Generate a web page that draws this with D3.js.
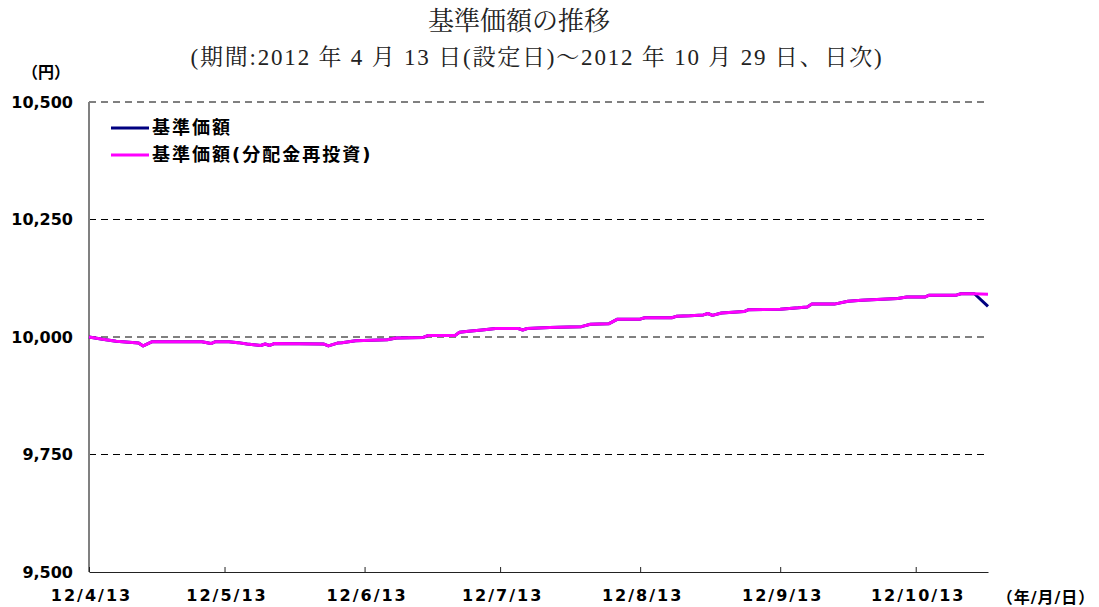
<!DOCTYPE html>
<html>
<head>
<meta charset="utf-8">
<script src="https://cdn.jsdelivr.net/npm/d3@7"></script>
<style>
  body { margin: 0; background: #fff; }
  .title { font-family: "Liberation Serif", "Noto Serif CJK JP", "Noto Sans CJK JP", serif; fill: #222; }
  .lab { font-family: "DejaVu Sans", "Noto Sans CJK JP", sans-serif; font-weight: bold; fill: #000; }
</style>
</head>
<body>
<div id="chart"></div>
<script>
// data
var dates = ['2012-04-13','2012-04-16','2012-04-19','2012-04-24','2012-04-25','2012-04-27',
	'2012-05-08','2012-05-10','2012-05-11','2012-05-14','2012-05-16','2012-05-18','2012-05-21',
	'2012-05-22','2012-05-23','2012-05-24','2012-06-04','2012-06-05','2012-06-07','2012-06-08',
	'2012-06-11','2012-06-18','2012-06-20','2012-06-26','2012-06-27','2012-07-03','2012-07-04',
	'2012-07-06','2012-07-09','2012-07-12','2012-07-17','2012-07-18','2012-07-19','2012-07-24',
	'2012-07-26','2012-07-31','2012-08-02','2012-08-06','2012-08-08','2012-08-13','2012-08-14',
	'2012-08-20','2012-08-21','2012-08-24','2012-08-27','2012-08-28','2012-08-29','2012-08-31',
	'2012-09-05','2012-09-06','2012-09-13','2012-09-17','2012-09-19','2012-09-20','2012-09-25',
	'2012-09-28','2012-10-01','2012-10-09','2012-10-11','2012-10-15','2012-10-16','2012-10-22',
	'2012-10-23','2012-10-26','2012-10-29'];

var reinvested = [10000,9995,9991,9987,9981,9990,
	9990,9986,9990,9990,9988,9985,9982,
	9985,9982,9986,9985,9981,9987,9988,
	9992,9994,9998,9999,10003,10003,10010,
	10012,10015,10018,10018,10015,10018,10020,
	10021,10022,10027,10028,10038,10038,10041,
	10041,10044,10045,10047,10050,10046,10051,
	10054,10058,10059,10062,10064,10070,10070,
	10076,10078,10082,10085,10085,10089,10089,
	10092,10092,10091];

var nav = reinvested.slice(0, reinvested.length - 1).concat([10065]);

var yTicks = [9500, 9750, 10000, 10250, 10500];
var xTicks = ['2012-04-13','2012-05-13','2012-06-13','2012-07-13','2012-08-13','2012-09-13','2012-10-13'];
var xTickLabels = ['12/4/13','12/5/13','12/6/13','12/7/13','12/8/13','12/9/13','12/10/13'];

var series = [
	{ name: '基準価額', color: '#000080', values: nav },
	{ name: '基準価額(分配金再投資)', color: '#ff00ff', values: reinvested }
];

var W = 1099, H = 607;
var margin = {top: 102, right: 111, bottom: 35, left: 89},
	width = W - margin.left - margin.right,
	height = H - margin.top - margin.bottom;

var parse = d3.timeParse('%Y-%m-%d');

var svg = d3.select('#chart').append('svg')
	.attr('width', W)
	.attr('height', H);

svg.append('text')
	.attr('class', 'title')
	.attr('x', 519).attr('y', 30)
	.attr('text-anchor', 'middle')
	.style('font-size', '26px')
	.text('基準価額の推移');

svg.append('text')
	.attr('class', 'title')
	.attr('x', 537).attr('y', 65)
	.attr('text-anchor', 'middle')
	.style('font-size', '23px')
	.style('letter-spacing', '1.8px')
	.text('(期間:2012 年 4 月 13 日(設定日)～2012 年 10 月 29 日、日次)');

var g = svg.append('g')
	.attr('transform', 'translate(' + margin.left + ',' + margin.top + ')');

var x = d3.scaleTime()
	.domain([parse('2012-04-13'), parse('2012-10-29')])
	.range([0, width]);

var y = d3.scaleLinear()
	.domain([9500, 10500])
	.range([height, 0]);

// dashed grid
g.selectAll('.grid')
	.data(yTicks.filter(function(d) { return d > 9500; }))
	.enter()
	.append('line')
	.attr('class', 'grid')
	.attr('x1', 0).attr('x2', width)
	.attr('y1', function(d) { return y(d); })
	.attr('y2', function(d) { return y(d); })
	.style('stroke', '#000')
	.style('stroke-width', 1)
	.style('stroke-dasharray', '7,5');

// y labels
g.selectAll('.ylab')
	.data(yTicks)
	.enter()
	.append('text')
	.attr('class', 'lab')
	.attr('x', -16)
	.attr('y', function(d) { return y(d); })
	.attr('dy', '0.36em')
	.attr('text-anchor', 'end')
	.style('font-size', '16px')
	.text(d3.format(','));

svg.append('text')
	.attr('class', 'lab')
	.attr('x', 46).attr('y', 78)
	.attr('text-anchor', 'middle')
	.style('font-size', '16px')
	.text('（円）');

// left axis line
g.append('line')
	.attr('x1', 0).attr('x2', 0)
	.attr('y1', 0).attr('y2', height)
	.style('stroke', '#808080')
	.style('stroke-width', 2);

// bottom axis
var xAxis = d3.axisBottom(x)
	.tickValues(xTicks.map(parse))
	.tickSize(-5)
	.tickSizeOuter(0)
	.tickPadding(18)
	.tickFormat(function(d, i) { return xTickLabels[i]; });

var ax = g.append('g')
	.attr('transform', 'translate(0,' + height + ')')
	.call(xAxis);
ax.select('.domain').style('stroke', '#222');
ax.selectAll('.tick line').style('stroke', '#222');
ax.selectAll('.tick text')
	.attr('class', 'lab')
	.attr('dx', '2px')
	.style('font-size', '16px')
	.style('letter-spacing', '2px');

svg.append('text')
	.attr('class', 'lab')
	.attr('x', 1046).attr('y', 603)
	.attr('text-anchor', 'middle')
	.style('font-size', '16px')
	.style('letter-spacing', '1px')
	.text('（年/月/日）');

// lines
var line = d3.line()
	.x(function(d, i) { return x(parse(dates[i])); })
	.y(function(d) { return y(d); });

g.selectAll('.series')
	.data(series)
	.enter()
	.append('path')
	.attr('class', 'series')
	.attr('d', function(d) { return line(d.values); })
	.style('fill', 'none')
	.style('stroke', function(d) { return d.color; })
	.style('stroke-width', 3)
	.style('stroke-linejoin', 'round');

// legend
var legend = g.selectAll('.legend')
	.data(series)
	.enter()
	.append('g')
	.attr('class', 'legend')
	.attr('transform', function(d, i) { return 'translate(22,' + (26 + i * 27) + ')'; });

legend.append('line')
	.attr('x1', 0).attr('x2', 38)
	.style('stroke', function(d) { return d.color; })
	.style('stroke-width', 3);

legend.append('text')
	.attr('class', 'lab')
	.attr('x', 41)
	.attr('dy', '0.36em')
	.style('font-size', '18px')
	.style('letter-spacing', '2px')
	.text(function(d) { return d.name; });
</script>
</body>
</html>
